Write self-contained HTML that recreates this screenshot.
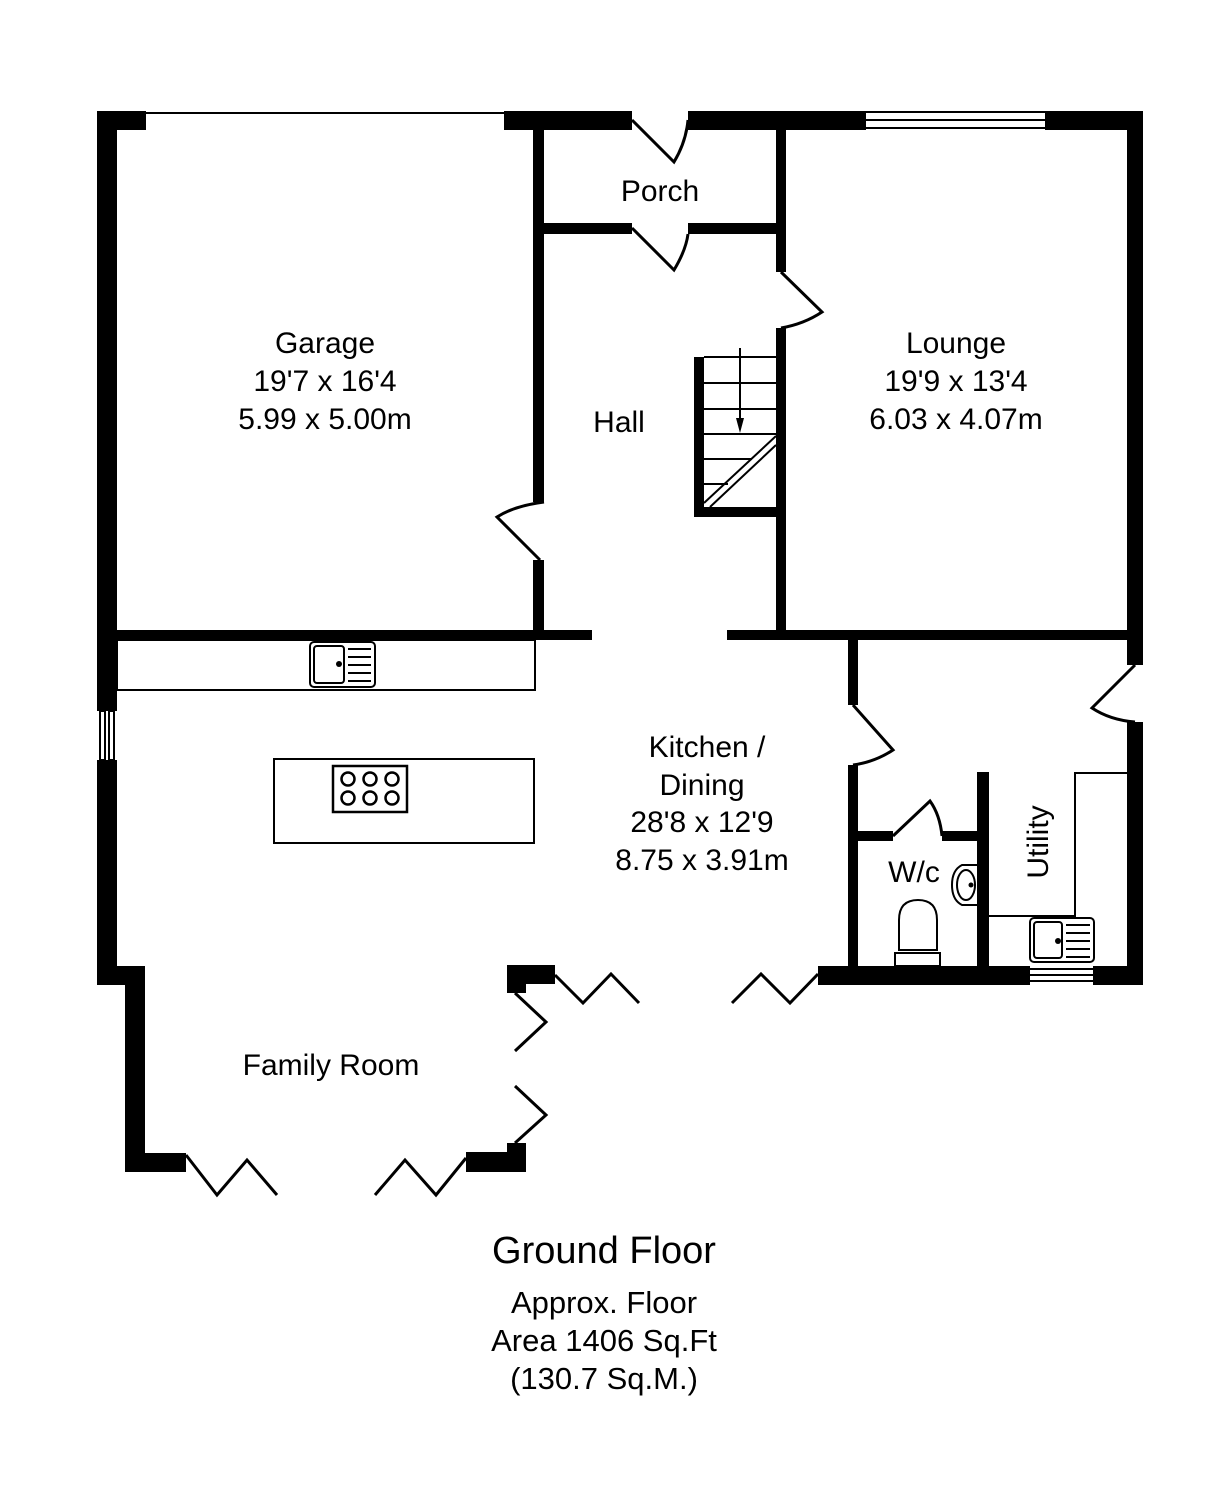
<!DOCTYPE html>
<html><head><meta charset="utf-8"><style>
html,body{margin:0;padding:0;background:#fff}
svg{display:block}
text{font-family:"Liberation Sans",Arial,sans-serif;fill:#000}
</style></head><body>
<svg width="1230" height="1501" viewBox="0 0 1230 1501" xmlns="http://www.w3.org/2000/svg">
<g fill="#000">
<rect x="97" y="111" width="49" height="19"/>
<rect x="504" y="111" width="128" height="19"/>
<rect x="688" y="111" width="178" height="19"/>
<rect x="1045" y="111" width="98" height="19"/>
<rect x="97" y="111" width="20" height="600"/>
<rect x="97" y="760" width="20" height="225"/>
<rect x="97" y="966" width="48" height="19"/>
<rect x="125" y="966" width="20" height="206"/>
<rect x="125" y="1153" width="61" height="19"/>
<rect x="466" y="1152" width="60" height="20"/>
<rect x="507" y="1143" width="19" height="29"/>
<rect x="507" y="965" width="48" height="19"/>
<rect x="507" y="965" width="19" height="28"/>
<rect x="818" y="966" width="212" height="19"/>
<rect x="1093" y="966" width="50" height="19"/>
<rect x="1127" y="111" width="16" height="554"/>
<rect x="1127" y="722" width="16" height="263"/>
<rect x="533" y="129" width="11" height="373"/>
<rect x="533" y="560" width="11" height="75"/>
<rect x="776" y="129" width="10" height="143"/>
<rect x="776" y="328" width="10" height="307"/>
<rect x="544" y="223" width="88" height="11"/>
<rect x="688" y="223" width="88" height="11"/>
<rect x="117" y="630" width="475" height="10"/>
<rect x="727" y="630" width="400" height="10"/>
<rect x="848" y="640" width="10" height="65"/>
<rect x="848" y="765" width="10" height="203"/>
<rect x="858" y="831" width="35" height="10"/>
<rect x="942" y="831" width="35" height="10"/>
<rect x="977" y="772" width="12" height="196"/>
<rect x="694" y="357" width="10" height="160"/>
<rect x="694" y="507" width="82" height="10"/>
</g>
<g fill="none" stroke="#000" stroke-width="2">
<line x1="146" y1="113" x2="504" y2="113"/>
<line x1="866" y1="112" x2="1045" y2="112"/>
<line x1="866" y1="120" x2="1045" y2="120"/>
<line x1="866" y1="128" x2="1045" y2="128"/>
<rect x="100" y="711" width="5" height="49"/>
<rect x="109" y="711" width="5" height="49"/>
<line x1="1030" y1="975" x2="1093" y2="975"/>
<line x1="1030" y1="981" x2="1093" y2="981"/>
<line x1="1030" y1="969" x2="1093" y2="969"/>
<rect x="117" y="640" width="418" height="50"/>
<rect x="274" y="759" width="260" height="84"/>
<polyline points="989,916 1075,916 1075,773 1127,773"/>
</g>
<g fill="none" stroke="#000" stroke-width="3">
<path d="M632,120 L674,162 Q686,142 688,120"/>
<path d="M632,228 L674,270 Q686,250 688,234"/>
<path d="M781,272 L822,312 Q804,324 781,328"/>
<path d="M544,502 Q514,506 497,517 L540,560"/>
<path d="M853,705 L893,750 Q875,762 853,765"/>
<path d="M1135,665 L1092,708 Q1110,720 1135,722"/>
<path d="M893,836 L930,801 Q940,815 942,836"/>
<polyline points="186,1155 217,1195 247,1160 277,1195"/>
<polyline points="375,1195 405,1160 436,1195 466,1158"/>
<polyline points="515,993 546,1022 515,1051"/>
<polyline points="515,1086 546,1115 515,1143"/>
<polyline points="555,975 583,1003 611,974 639,1003"/>
<polyline points="732,1003 761,974 790,1003 818,974"/>
</g>
<g stroke="#000" stroke-width="2" fill="none">
<line x1="704" y1="357" x2="776" y2="357"/>
<line x1="704" y1="383" x2="776" y2="383"/>
<line x1="704" y1="409" x2="776" y2="409"/>
<line x1="704" y1="434" x2="776" y2="434"/>
<line x1="704" y1="459" x2="752" y2="459"/>
<line x1="704" y1="484" x2="728" y2="484"/>
<line x1="740" y1="348" x2="740" y2="420"/>
<line x1="704" y1="503" x2="776" y2="436"/>
<line x1="710" y1="507" x2="776" y2="445"/>
</g>
<polygon points="736,418 744,418 740,433" fill="#000"/>
<g stroke="#000" stroke-width="2" fill="none">
<rect x="310" y="642" width="65" height="45" rx="4"/>
<rect x="314" y="646" width="30" height="37" rx="3"/>
<line x1="348" y1="649" x2="371" y2="649"/><line x1="348" y1="657" x2="371" y2="657"/>
<line x1="348" y1="665" x2="371" y2="665"/><line x1="348" y1="673" x2="371" y2="673"/>
<line x1="348" y1="681" x2="371" y2="681"/>
</g>
<circle cx="339" cy="664" r="3" fill="#000"/>
<g stroke="#000" stroke-width="2.5" fill="none">
<rect x="333" y="766" width="74" height="46"/>
<circle cx="348" cy="779" r="6.5"/><circle cx="370" cy="779" r="6.5"/><circle cx="392" cy="779" r="6.5"/>
<circle cx="348" cy="798" r="6.5"/><circle cx="370" cy="798" r="6.5"/><circle cx="392" cy="798" r="6.5"/>
</g>
<g stroke="#000" stroke-width="2" fill="none">
<rect x="1030" y="918" width="64" height="44" rx="4"/>
<rect x="1034" y="922" width="28" height="36" rx="3"/>
<line x1="1066" y1="925" x2="1090" y2="925"/><line x1="1066" y1="933" x2="1090" y2="933"/>
<line x1="1066" y1="941" x2="1090" y2="941"/><line x1="1066" y1="949" x2="1090" y2="949"/>
<line x1="1066" y1="957" x2="1090" y2="957"/>
</g>
<circle cx="1058" cy="941" r="3" fill="#000"/>
<g stroke="#000" stroke-width="2" fill="#fff">
<path d="M899,950 L899,920 Q899,900 918,900 Q937,900 937,920 L937,950 Z"/>
<rect x="895" y="953" width="45" height="13"/>
</g>
<g stroke="#000" stroke-width="2" fill="none">
<path d="M977,865 L962,865 Q952,870 952,885 Q952,900 962,905 L977,905"/>
<ellipse cx="966" cy="885" rx="9" ry="15"/>
</g>
<circle cx="971" cy="885" r="2.5" fill="#000"/>
<g font-size="30" text-anchor="middle">
<text x="660" y="201">Porch</text>
<text x="325" y="353">Garage</text>
<text x="325" y="391">19'7 x 16'4</text>
<text x="325" y="429">5.99 x 5.00m</text>
<text x="619" y="432">Hall</text>
<text x="956" y="353">Lounge</text>
<text x="956" y="391">19'9 x 13'4</text>
<text x="956" y="429">6.03 x 4.07m</text>
<text x="707" y="757">Kitchen /</text>
<text x="702" y="795">Dining</text>
<text x="702" y="832">28'8 x 12'9</text>
<text x="702" y="870">8.75 x 3.91m</text>
<text x="914" y="882">W/c</text>
<text x="331" y="1075">Family Room</text>
<text transform="translate(1048,842) rotate(-90)">Utility</text>
<text x="604" y="1263" font-size="38">Ground Floor</text>
<text x="604" y="1313" font-size="31">Approx. Floor</text>
<text x="604" y="1351" font-size="31">Area 1406 Sq.Ft</text>
<text x="604" y="1389" font-size="31">(130.7 Sq.M.)</text>
</g>
</svg>
</body></html>
